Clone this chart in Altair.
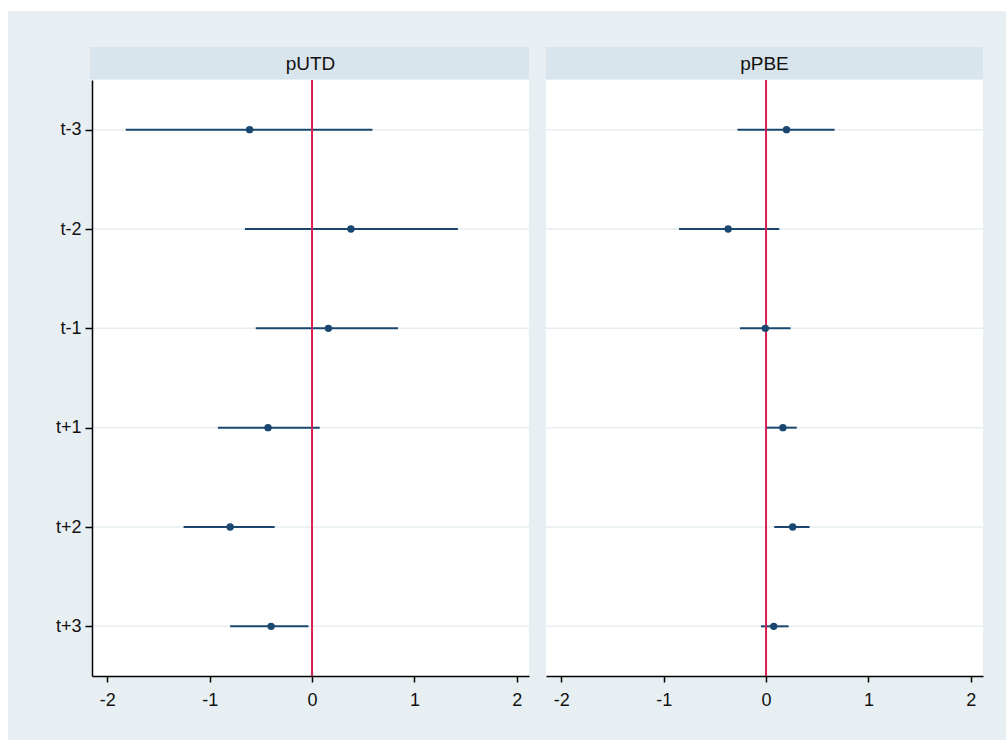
import altair as alt
import pandas as pd

terms = ["t-3", "t-2", "t-1", "t+1", "t+2", "t+3"]

putd_coef = [-0.61, 0.38, 0.16, -0.43, -0.80, -0.40]
putd_lo = [-1.82, -0.655, -0.55, -0.92, -1.255, -0.80]
putd_hi = [0.59, 1.425, 0.84, 0.075, -0.365, -0.035]

ppbe_coef = [0.20, -0.37, -0.007, 0.165, 0.26, 0.075]
ppbe_lo = [-0.28, -0.85, -0.255, 0.0, 0.08, -0.05]
ppbe_hi = [0.67, 0.13, 0.24, 0.30, 0.425, 0.22]

x_ticks = [-2, -1, 0, 1, 2]

FONT = "Liberation Sans"
BG = "#e8eff2"
STRIP = "#d9e5ec"
GRID = "#e6eef1"
NAVY = "#1a476f"
RED = "#d62052"
W = 437
H = 596


def panel(name, coef, lo, hi, first):
    df = pd.DataFrame({"term": terms, "coef": coef, "lo": lo, "hi": hi})
    one = alt.Data(values=[{"a": 1}])
    xs = alt.Scale(domain=[-2.15, 2.12], nice=False, zero=False)
    ys = alt.Scale(type="point", domain=terms, padding=0.5)
    xaxis = alt.Axis(
        title=None, grid=False, values=x_ticks, labelExpr="toString(datum.value)",
        tickSize=6, tickWidth=1.5, tickColor="black", domainColor="black",
        domainWidth=1.5, labelFontSize=18, labelFont=FONT, labelColor="#111111",
        labelPadding=9, labelFlush=False, labelOverlap=False, zindex=1,
    )
    if first:
        yaxis = alt.Axis(
            title=None, grid=False, tickSize=7, tickWidth=1.5, tickColor="black",
            domainColor="black", domainWidth=1.5, labelFontSize=18, labelFont=FONT,
            labelColor="#111111", labelPadding=4, zindex=1,
        )
        y_enc = alt.Y("term:N", scale=ys, axis=yaxis, sort=terms)
        bg_left, bg_right = -84, W + 10
    else:
        y_enc = alt.Y("term:N", scale=ys, axis=None, sort=terms)
        bg_left, bg_right = -9, W + 23

    bg = alt.Chart(one).mark_rect(color=BG).encode(
        x=alt.value(bg_left), x2=alt.value(bg_right),
        y=alt.value(-69), y2=alt.value(H + 64))
    plotbg = alt.Chart(one).mark_rect(color="white").encode(
        x=alt.value(0), x2=alt.value(W), y=alt.value(0), y2=alt.value(H))
    strip = alt.Chart(one).mark_rect(color=STRIP).encode(
        x=alt.value(-2 if first else 0), x2=alt.value(W),
        y=alt.value(-33), y2=alt.value(-1))
    striptext = alt.Chart(one).mark_text(
        text=name, fontSize=19, font=FONT, color="#111111", baseline="middle", align="center"
    ).encode(x=alt.value(W / 2), y=alt.value(-16))

    base = alt.Chart(df)
    grid = base.mark_rule(color=GRID, strokeWidth=1.5).encode(
        y=y_enc, x=alt.value(0), x2=alt.value(W))
    ci = base.mark_rule(color=NAVY, strokeWidth=2).encode(
        y=y_enc, x=alt.X("lo:Q", scale=xs, axis=xaxis), x2="hi:Q")
    zero = alt.Chart(one).mark_rule(color=RED, strokeWidth=2).encode(
        x=alt.datum(0), y=alt.value(0), y2=alt.value(H))
    pts = base.mark_point(filled=True, color=NAVY, size=55, opacity=1, shape="circle").encode(
        y=y_enc, x=alt.X("coef:Q", scale=xs))

    return alt.layer(bg, plotbg, grid, ci, zero, pts, strip, striptext).properties(
        width=W, height=H)


p1 = panel("pUTD", putd_coef, putd_lo, putd_hi, True)
p2 = panel("pPBE", ppbe_coef, ppbe_lo, ppbe_hi, False)

chart = alt.hconcat(p1, p2, spacing=17, bounds="flush").properties(
    background="white",
    padding={"left": 8, "top": 11, "right": 0, "bottom": 0},
).configure_view(strokeWidth=0)

chart.save("out.html", embed_options={"renderer": "svg", "actions": False})
